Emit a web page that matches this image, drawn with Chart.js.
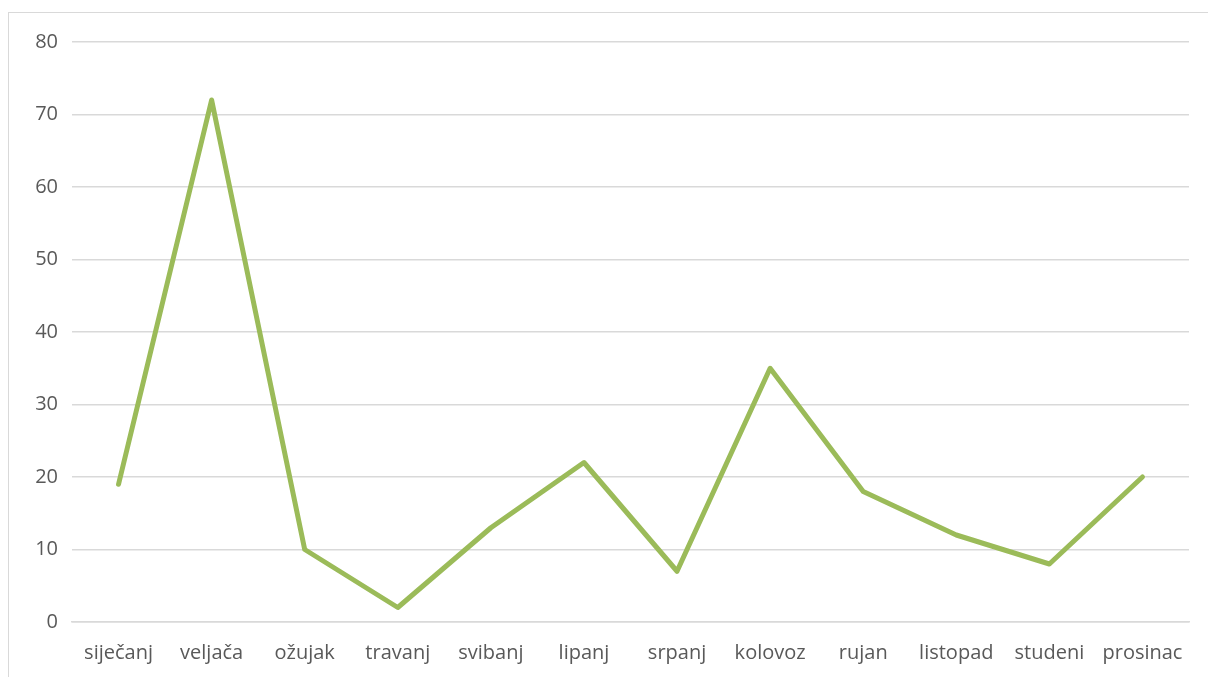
<!DOCTYPE html>
<html>
<head>
<meta charset="utf-8">
<script src="https://cdn.jsdelivr.net/npm/chart.js@4/dist/chart.umd.min.js"></script>
<style>
  html, body { margin: 0; padding: 0; background: #fff; }
  #wrap { width: 1208px; height: 677px; position: relative; }
</style>
</head>
<body>
<div id="wrap"><canvas id="chart"></canvas></div>
<script>
// months (Croatian) and monthly values
const months = ["siječanj", "veljača", "ožujak", "travanj", "svibanj", "lipanj",
                "srpanj", "kolovoz", "rujan", "listopad", "studeni", "prosinac"];
const values = [19, 72, 10, 2, 13, 22, 7, 35, 18, 12, 8, 20];
const yTicks = [0, 10, 20, 30, 40, 50, 60, 70, 80];

// light frame around the chart, like the Excel chart box
const frame = {
    id: "frame",
    beforeDraw(chart) {
        const ctx = chart.ctx;
        ctx.save();
        ctx.strokeStyle = "#d9d9d9";
        ctx.lineWidth = 1;
        ctx.strokeRect(8.5, 12.5, chart.width + 20, chart.height + 20);
        ctx.restore();
    }
};

const ctx = document.getElementById("chart");
new Chart(ctx, {
    type: "line",
    data: {
        labels: months,
        datasets: [{
            data: values,
            borderColor: "#9bbb59",
            borderWidth: 5,
            pointRadius: 0,
            tension: 0,
            borderJoinStyle: "round",
            borderCapStyle: "round"
        }]
    },
    options: {
        responsive: true,
        maintainAspectRatio: false,
        animation: false,
        layout: { padding: { left: 0, top: 42, right: 19, bottom: 0 } },
        plugins: { legend: { display: false }, tooltip: { enabled: false } },
        scales: {
            x: {
                offset: true,
                grid: { display: false, drawTicks: false },
                border: { display: true, color: "#d9d9d9", width: 1.5 },
                ticks: {
                    color: "#595959",
                    font: { family: "Open Sans", size: 20 },
                    padding: 19,
                    maxRotation: 0,
                    autoSkip: false
                },
                afterFit(scale) { scale.height = 55; }
            },
            y: {
                min: 0,
                max: 80,
                afterBuildTicks(scale) { scale.ticks = yTicks.map(v => ({ value: v })); },
                grid: { color: "#d9d9d9", lineWidth: 1.5, drawTicks: false },
                border: { display: false },
                ticks: {
                    color: "#595959",
                    font: { family: "Open Sans", size: 20 },
                    padding: 14
                },
                afterFit(scale) { scale.width = 72; }
            }
        }
    },
    plugins: [frame]
});
</script>
</body>
</html>
